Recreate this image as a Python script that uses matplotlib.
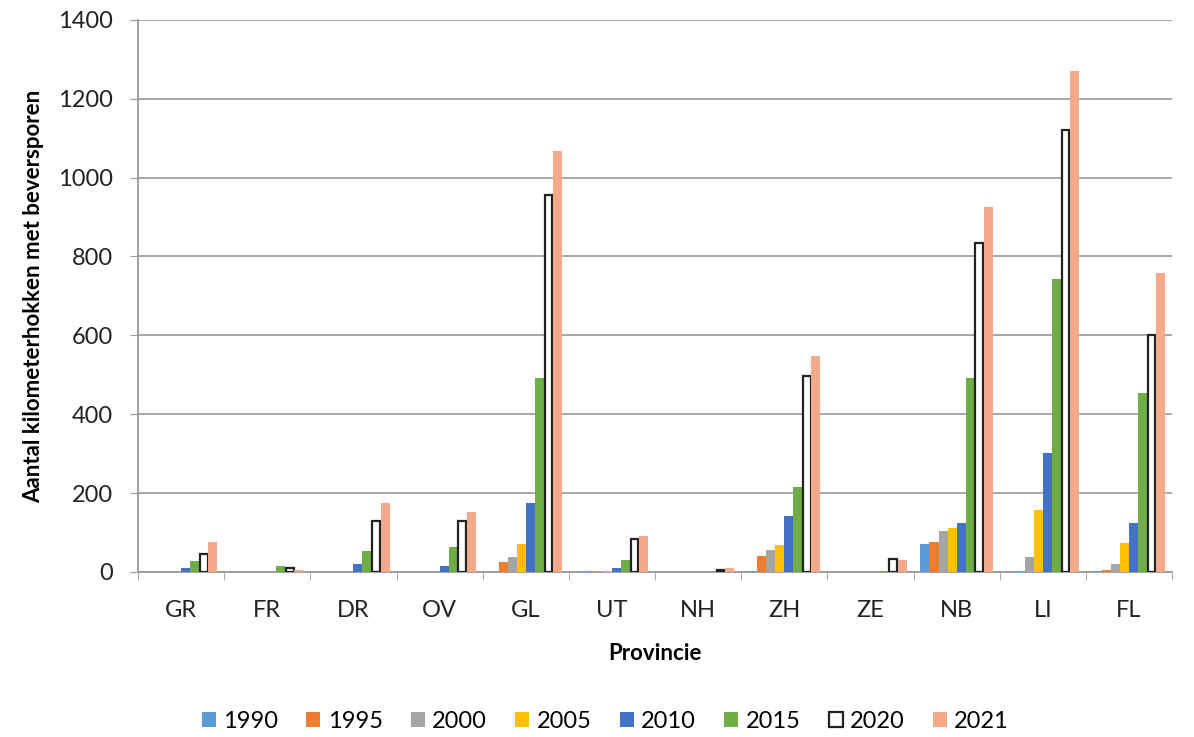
import numpy as np
import matplotlib.pyplot as plt
from matplotlib.ticker import FixedLocator

plt.rcParams['font.family'] = ['Lato', 'DejaVu Sans']

provincies = ["GR", "FR", "DR", "OV", "GL", "UT", "NH", "ZH", "ZE", "NB", "LI", "FL"]
jaren = ["1990", "1995", "2000", "2005", "2010", "2015", "2020", "2021"]

# aantal kilometerhokken per provincie, per jaar
v1990 = [0, 0, 0, 0, 0, 1, 0, 2, 0, 71, 0, 3]
v1995 = [0, 0, 0, 0, 25, 2, 0, 41, 0, 75, 3, 6]
v2000 = [0, 0, 0, 0, 38, 2, 0, 55, 0, 104, 37, 21]
v2005 = [0, 0, 0, 0, 72, 2, 0, 68, 0, 111, 157, 74]
v2010 = [11, 0, 20, 14, 174, 11, 1, 141, 0, 125, 301, 125]
v2015 = [28, 14, 54, 64, 491, 30, 1, 216, 2, 491, 744, 455]
v2020 = [45, 10, 130, 128, 956, 84, 4, 497, 32, 835, 1121, 602]
v2021 = [75, 5, 174, 151, 1067, 90, 9, 548, 29, 926, 1270, 757]
reeksen = [v1990, v1995, v2000, v2005, v2010, v2015, v2020, v2021]

kleuren = ["#5B9BD5", "#ED7D31", "#A5A5A5", "#FFC000", "#4472C4", "#70AD47", "white", "#F4A98A"]

fig = plt.figure(figsize=(11.94, 7.37), dpi=100)
ax = fig.add_axes([0.1156, 0.224, 0.866, 0.749])

x = np.arange(len(provincies))
breedte = 0.105
for i, (jaar, waarden) in enumerate(zip(jaren, reeksen)):
    pos = x + (i - 3.5) * breedte
    if jaar == "2020":
        ax.bar(pos, waarden, breedte * 0.85, color="white", edgecolor="#222222",
               linewidth=1.6, label=jaar, zorder=3)
    else:
        ax.bar(pos, waarden, breedte, color=kleuren[i], label=jaar, zorder=3)

ax.set_xlim(-0.5, len(provincies) - 0.5)
ax.set_ylim(0, 1400)
ax.set_yticks(np.arange(0, 1401, 200))
ax.set_xticks(x)
ax.set_xticklabels(provincies)
ax.xaxis.set_minor_locator(FixedLocator(np.arange(-0.5, len(provincies), 1)))
ax.tick_params(axis='x', which='major', length=0, labelsize=17, pad=20, colors='#222222')
ax.tick_params(axis='x', which='minor', length=6, color='#999999')
ax.tick_params(axis='y', length=6, color='#999999', labelsize=17, colors='#222222', pad=12)

ax.grid(axis='y', color='#A0A0A0', linewidth=1.3, zorder=0)
for s in ['top', 'right']:
    ax.spines[s].set_visible(False)
ax.spines['left'].set_color('#999999')
ax.spines['bottom'].set_color('#999999')
ax.spines['left'].set_linewidth(1.3)
ax.spines['bottom'].set_linewidth(1.3)

ax.set_ylabel("Aantal kilometerhokken met beversporen", fontsize=16, fontweight='bold', labelpad=10)
ax.set_xlabel("Provincie", fontsize=16, fontweight='bold', labelpad=16)

fig.legend(loc='lower center', bbox_to_anchor=(0.507, -0.022), ncol=8, frameon=False,
           fontsize=17, handlelength=0.6, handleheight=0.6, handletextpad=0.3,
           columnspacing=1.2)

fig.savefig("out.png", dpi=100)
